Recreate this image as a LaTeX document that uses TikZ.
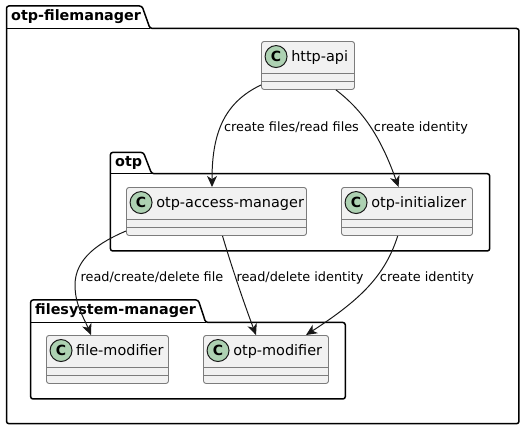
\documentclass[tikz,border=0pt]{standalone}
\usepackage{fontspec}
\setmainfont{DejaVu Sans}
\usetikzlibrary{arrows.meta}
\definecolor{inkdark}{HTML}{181818}
\definecolor{boxline}{HTML}{7C7C7C}
\definecolor{boxfill}{HTML}{F1F1F1}
\definecolor{spotfill}{HTML}{ADD1B2}
\tikzset{
  package/.style={draw=black, line width=0.05cm, rounded corners=0.08cm},
  packagetitle/.style={anchor=base west, inner sep=0, font=\fontsize{13.6pt}{16pt}\selectfont\bfseries},
  classbox/.style={draw=boxline, line width=0.03cm, fill=boxfill, rounded corners=0.085cm, inner sep=0, minimum height=1.6cm,
    path picture={
      \draw[boxline, line width=0.03cm] ([yshift=-0.267cm]path picture bounding box.west) -- ([yshift=-0.267cm]path picture bounding box.east);
      \draw[boxline, line width=0.03cm] ([yshift=-0.533cm]path picture bounding box.west) -- ([yshift=-0.533cm]path picture bounding box.east);
    }},
  classspot/.style={shape=circle, draw=inkdark, line width=0.033cm, fill=spotfill, inner sep=0, minimum size=0.733cm, font=\fontsize{13.28pt}{16pt}\selectfont\bfseries},
  classname/.style={anchor=base west, inner sep=0, font=\fontsize{13.7pt}{16pt}\selectfont},
  edgelabel/.style={anchor=base, inner sep=0, font=\fontsize{12.2pt}{15pt}\selectfont},
  wire/.style={draw=inkdark, line width=0.033cm, -{Stealth[length=0.37cm, width=0.33cm, inset=0.11cm]}}
}
\begin{document}
\begin{tikzpicture}
          \useasboundingbox (0, 0) rectangle (17.467, 14.3);
          % Packages:
          \draw[package] (0.217, 0.177) -- (0.217, 14.1) -- (4.733, 14.1) -- (5, 13.35) -- (17.3, 13.35) -- (17.3, 0.177) -- cycle;
          \draw[package] (0.217, 13.35) -- (5, 13.35);
          \node[packagetitle] (titleFilemanager) at (0.367, 13.6){otp-filemanager};
          \draw[package] (3.68, 5.933) -- (3.68, 9.22) -- (4.78, 9.22) -- (5.055, 8.51) -- (16.323, 8.51) -- (16.323, 5.933) -- cycle;
          \draw[package] (3.68, 8.51) -- (5.055, 8.51);
          \node[packagetitle] (titleOtp) at (3.833, 8.75){otp};
          \draw[package] (1.022, 1) -- (1.022, 4.3) -- (6.61, 4.3) -- (6.856, 3.55) -- (11.51, 3.55) -- (11.51, 1) -- cycle;
          \draw[package] (1.022, 3.55) -- (6.856, 3.55);
          \node[packagetitle] (titleFilesystem) at (1.167, 3.8){filesystem-manager};
          % Classes:
          \node[classbox, minimum width=3.1cm] (httpApi) at (10.267, 12.117){};
          \node[classspot] (spotHttpApi) at ([xshift=0.5cm, yshift=-0.517cm]httpApi.north west){C};
          \node[classname] (nameHttpApi) at ([xshift=1cm, yshift=-0.675cm]httpApi.north west){http-api};
          \node[classbox, minimum width=6cm] (accessManager) at (7.217, 7.25){};
          \node[classspot] (spotAccessManager) at ([xshift=0.5cm, yshift=-0.517cm]accessManager.north west){C};
          \node[classname] (nameAccessManager) at ([xshift=1cm, yshift=-0.675cm]accessManager.north west){otp-access-manager};
          \node[classbox, minimum width=4.367cm] (initializer) at (13.567, 7.25){};
          \node[classspot] (spotInitializer) at ([xshift=0.5cm, yshift=-0.517cm]initializer.north west){C};
          \node[classname] (nameInitializer) at ([xshift=1cm, yshift=-0.675cm]initializer.north west){otp-initializer};
          \node[classbox, minimum width=4.067cm] (fileModifier) at (3.583, 2.317){};
          \node[classspot] (spotFileModifier) at ([xshift=0.5cm, yshift=-0.517cm]fileModifier.north west){C};
          \node[classname] (nameFileModifier) at ([xshift=1cm, yshift=-0.675cm]fileModifier.north west){file-modifier};
          \node[classbox, minimum width=4.167cm] (otpModifier) at (8.867, 2.317){};
          \node[classspot] (spotOtpModifier) at ([xshift=0.5cm, yshift=-0.517cm]otpModifier.north west){C};
          \node[classname] (nameOtpModifier) at ([xshift=1cm, yshift=-0.675cm]otpModifier.north west){otp-modifier};
          % Wires and their labels:
          \draw[wire] ([yshift=-0.65cm]httpApi.west) .. controls (7.433, 10.867) and (7.067, 9.8) .. ([xshift=-0.15cm]accessManager.north);
          \draw[wire] ([xshift=0.933cm]httpApi.south) .. controls (12.067, 10.633) and (12.667, 9.8) .. ([xshift=-0.283cm]initializer.north);
          \draw[wire] ([yshift=-0.65cm]accessManager.west) .. controls (3.333, 6.233) and (2.5, 5.7) .. (2.5, 4.8) .. controls (2.5, 4.133) and (2.8, 3.7) .. ([xshift=-0.55cm]fileModifier.north);
          \draw[wire] ([xshift=0.2cm]accessManager.south) .. controls (7.733, 5.367) and (8.167, 4.1) .. ([xshift=-0.333cm]otpModifier.north);
          \draw[wire] ([xshift=-0.31cm]initializer.south) .. controls (12.833, 5.1) and (12, 4.3) .. ([xshift=1.333cm]otpModifier.north);
          \node[edgelabel] (labelFiles) at (9.717, 9.9){create files/read files};
          \node[edgelabel] (labelIdentity) at (14.033, 9.9){create identity};
          \node[edgelabel] (labelFile) at (5.067, 4.93){read/create/delete file};
          \node[edgelabel] (labelDelete) at (10, 4.93){read/delete identity};
          \node[edgelabel] (labelCreate) at (14.233, 4.93){create identity};
\end{tikzpicture}
\end{document}
